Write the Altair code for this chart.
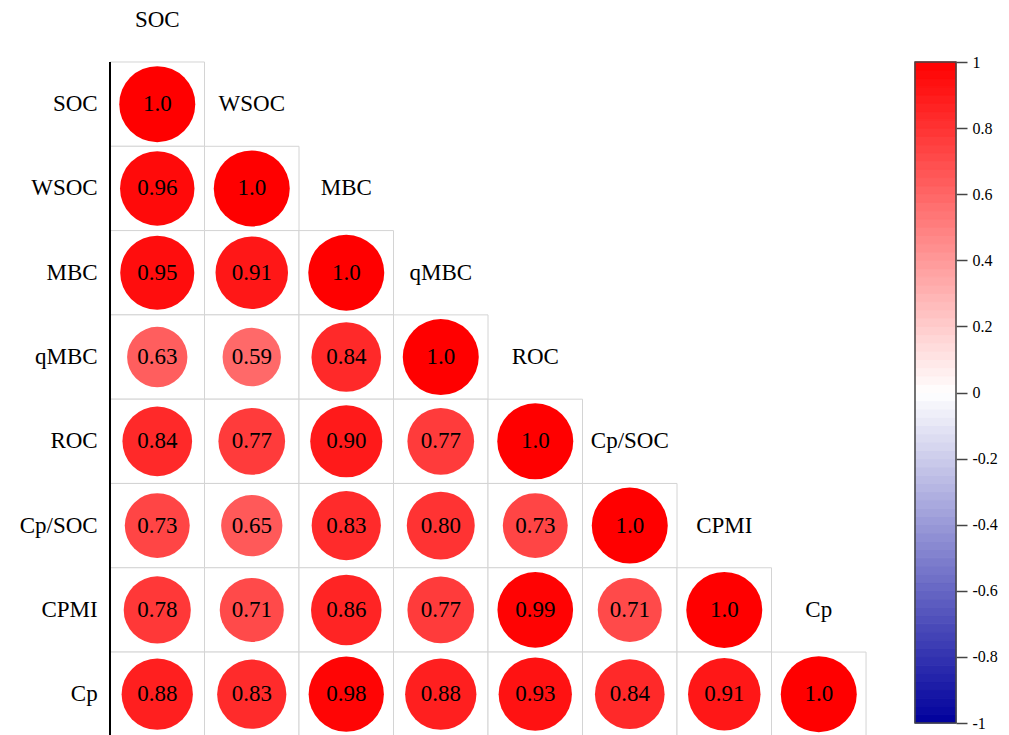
import altair as alt
import pandas as pd
import numpy as np

names = ["SOC", "WSOC", "MBC", "qMBC", "ROC", "Cp/SOC", "CPMI", "Cp"]
row_SOC = [1.0]
row_WSOC = [0.96, 1.0]
row_MBC = [0.95, 0.91, 1.0]
row_qMBC = [0.63, 0.59, 0.84, 1.0]
row_ROC = [0.84, 0.77, 0.90, 0.77, 1.0]
row_CpSOC = [0.73, 0.65, 0.83, 0.80, 0.73, 1.0]
row_CPMI = [0.78, 0.71, 0.86, 0.77, 0.99, 0.71, 1.0]
row_Cp = [0.88, 0.83, 0.98, 0.88, 0.93, 0.84, 0.91, 1.0]
rows = [row_SOC, row_WSOC, row_MBC, row_qMBC, row_ROC, row_CpSOC, row_CPMI, row_Cp]

colorbar_ticks = [-1, -0.8, -0.6, -0.4, -0.2, 0, 0.2, 0.4, 0.6, 0.8, 1]

FONT = "Liberation Serif"

recs = []
for r, vals in enumerate(rows):
    for c, v in enumerate(vals):
        recs.append({
            "c": c, "c2": c + 1, "cm": c + 0.5,
            "r": r, "r2": r + 1, "rm": r + 0.5,
            "v": v, "a": abs(v),
            "lab": "1.0" if r == c else f"{v:.2f}",
        })
cells = pd.DataFrame(recs)

rowlab = pd.DataFrame({"name": names, "x": -0.13, "y": [i + 0.5 for i in range(len(names))]})
collab = pd.DataFrame({"name": names,
                       "x": [i + 0.5 for i in range(len(names))],
                       "y": [i - 0.5 for i in range(len(names))]})
axline = pd.DataFrame({"x": [0], "y": [0], "y2": [len(names)]})

xs = alt.Scale(domain=[-1.164, 8.952], nice=False, zero=False)
ys = alt.Scale(domain=[-0.7355, 7.984], nice=False, zero=False, reverse=True)
cscale = alt.Scale(domain=[-1, 0, 1], range=["#00009C", "#FFFFFF", "#FF0000"], interpolate="rgb")

grid = alt.Chart(cells).mark_rect(fill="white", stroke="#D4D4D4", strokeWidth=1).encode(
    x=alt.X("c:Q", scale=xs, axis=None), x2="c2:Q",
    y=alt.Y("r:Q", scale=ys, axis=None), y2="r2:Q",
)
circles = alt.Chart(cells).mark_circle(opacity=1).encode(
    x=alt.X("cm:Q", scale=xs, axis=None),
    y=alt.Y("rm:Q", scale=ys, axis=None),
    size=alt.Size("a:Q", scale=alt.Scale(domain=[0, 1], range=[0, 5776]), legend=None),
    color=alt.Color("v:Q", scale=cscale, legend=None),
)
vals_txt = alt.Chart(cells).mark_text(font=FONT, fontSize=23, color="black", baseline="middle").encode(
    x=alt.X("cm:Q", scale=xs, axis=None),
    y=alt.Y("rm:Q", scale=ys, axis=None),
    text="lab:N",
)
rl = alt.Chart(rowlab).mark_text(font=FONT, fontSize=23, color="black", align="right", baseline="middle").encode(
    x=alt.X("x:Q", scale=xs, axis=None), y=alt.Y("y:Q", scale=ys, axis=None), text="name:N")
cl = alt.Chart(collab).mark_text(font=FONT, fontSize=23, color="black", align="center", baseline="middle").encode(
    x=alt.X("x:Q", scale=xs, axis=None), y=alt.Y("y:Q", scale=ys, axis=None), text="name:N")
line = alt.Chart(axline).mark_rule(color="black", strokeWidth=2).encode(
    x=alt.X("x:Q", scale=xs, axis=None), y=alt.Y("y:Q", scale=ys, axis=None), y2="y2:Q")

main = alt.layer(grid, circles, vals_txt, rl, cl, line)

edges = np.round(np.arange(-1, 1.0001, 0.025), 4)
bands = pd.DataFrame({"lo": edges[:-1], "hi": edges[1:], "mid": (edges[:-1] + edges[1:]) / 2})
cys = alt.Scale(domain=[-1.0363, 1.1876], nice=False, zero=False)
bar = alt.Chart(bands).mark_rect(strokeWidth=1).encode(
    x=alt.value(915), x2=alt.value(956),
    y=alt.Y("lo:Q", scale=cys, axis=alt.Axis(
        orient="right", values=colorbar_ticks, labelExpr="toString(datum.value)",
        domain=False, grid=False, title=None,
        tickColor="#444444", tickSize=11, tickWidth=1.5, labelFont=FONT, labelFontSize=16,
        labelColor="black", labelPadding=5)),
    y2="hi:Q",
    color=alt.Color("mid:Q", scale=cscale, legend=None),
    stroke=alt.Stroke("mid:Q", scale=cscale, legend=None),
)
border = alt.Chart(pd.DataFrame({"lo": [-1], "hi": [1]})).mark_rect(
    fill=None, stroke="#444444", strokeWidth=1.5).encode(
    x=alt.value(915), x2=alt.value(956),
    y=alt.Y("lo:Q", scale=cys), y2="hi:Q")
cbar = alt.layer(bar, border)

chart = alt.layer(main, cbar).resolve_scale(y="independent").properties(
    width=956, height=735, autosize="none",
    padding={"left": 0, "top": 0, "right": 53, "bottom": 0},
    background="white",
).configure_view(stroke=None)

chart.save("out.html", embed_options={"renderer": "svg", "actions": False})
